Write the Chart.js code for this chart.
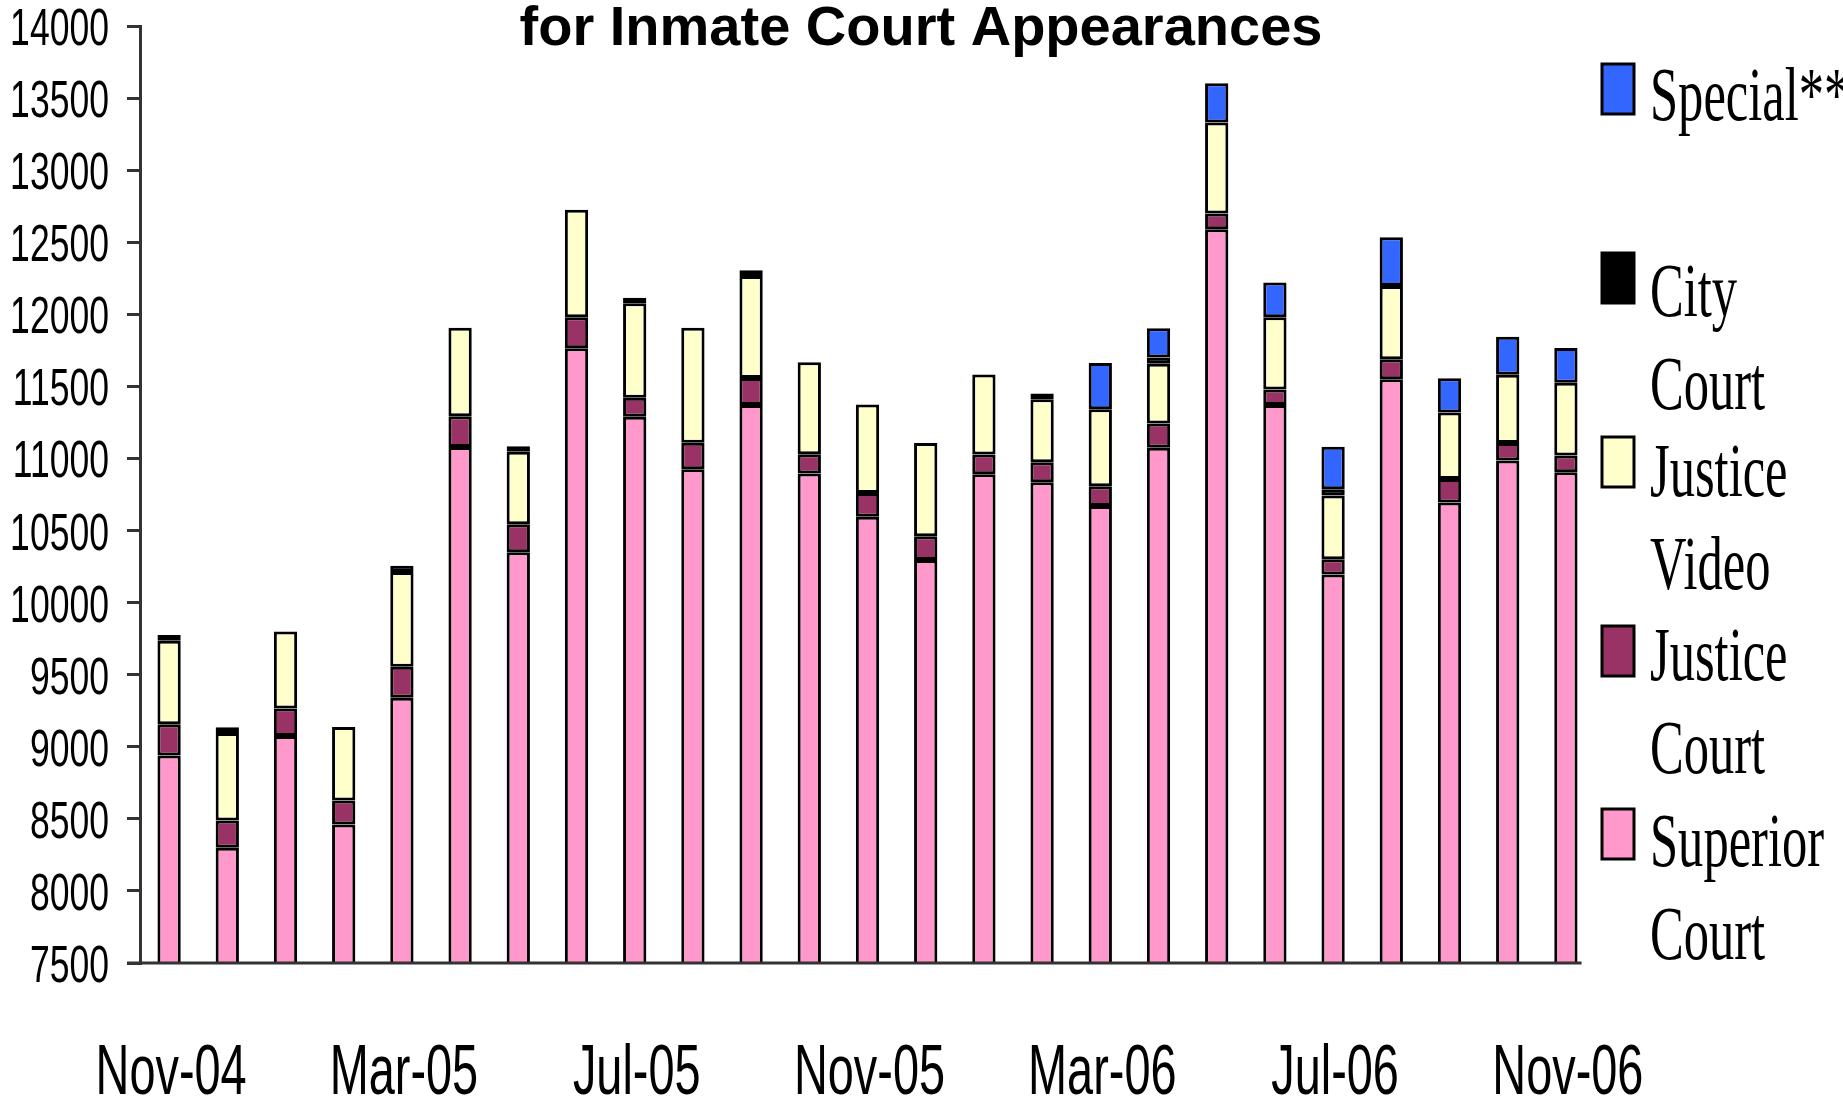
<!DOCTYPE html>
<html>
<head>
<meta charset="utf-8">
<title>Inmate Court Appearances</title>
<script src="https://cdn.jsdelivr.net/npm/chart.js@4.4.1/dist/chart.umd.min.js"></script>
<style>
  html, body { margin: 0; padding: 0; background: #fff; }
  #wrap { position: relative; width: 1843px; height: 1102px; }
</style>
</head>
<body>
<div id="wrap"><canvas id="courtChart"></canvas></div>
<script>
// Months on the x axis
const months = ['Nov-04', 'Dec-04', 'Jan-05', 'Feb-05', 'Mar-05', 'Apr-05', 'May-05', 'Jun-05',
    'Jul-05', 'Aug-05', 'Sep-05', 'Oct-05', 'Nov-05', 'Dec-05', 'Jan-06', 'Feb-06', 'Mar-06',
    'Apr-06', 'May-06', 'Jun-06', 'Jul-06', 'Aug-06', 'Sep-06', 'Oct-06', 'Nov-06'];

// Only every fourth month carries a label
const shownMonths = ['Nov-04', 'Mar-05', 'Jul-05', 'Nov-05', 'Mar-06', 'Jul-06', 'Nov-06'];

// Appearances per court type (stacked bottom to top)
const superiorCourt = [8940, 8300, 9075, 8460, 9340, 11080, 10350, 11765, 11290, 10925, 11370, 10895,
    10595, 10295, 10890, 10835, 10670, 11075, 12590, 11370, 10195, 11550, 10695, 10985, 10905];
const justiceCourt = [216, 188, 190, 167, 215, 212, 193, 214, 131, 184, 189, 134,
    166, 166, 137, 138, 137, 168, 109, 108, 106, 138, 162, 123, 115];
const justiceVideo = [580, 608, 535, 510, 658, 614, 503, 747, 656, 798, 706, 639,
    614, 647, 556, 437, 534, 414, 632, 502, 442, 508, 462, 472, 505];
const cityCourt = [40, 40, null, null, 42, null, 39, null, 37, null, 41, null,
    null, null, null, 41, null, 43, null, null, 43, null, null, null, null];
const special = [null, null, null, null, null, null, null, null, null, null, null, null,
    null, null, null, null, 322, 203, 272, 241, 296, 339, 237, 264, 241];

// y axis range
const yMin = 7500;
const yMax = 14000;
const yStep = 500;

const chartTitle = 'for Inmate Court Appearances';

// Legend layout (top to bottom)
const legendBaselines = [120, 316, 496, 680, 866];
const legendBoxTops = [64, 253, 437, 626, 809];
const legendLineGap = 93;

// draw text squeezed horizontally, like the stretched original
function drawSqueezed(ctx, text, x, y, font, sx, align) {
    ctx.save();
    ctx.translate(x, y);
    ctx.scale(sx, 1);
    ctx.font = font;
    ctx.textAlign = align;
    ctx.textBaseline = 'alphabetic';
    ctx.fillStyle = '#000';
    ctx.fillText(text, 0, 0);
    ctx.restore();
}

const textPlugin = {
    id: 'squeezedText',
    afterDraw(chart) {
        const ctx = chart.ctx;
        const xScale = chart.scales.x;
        const yScale = chart.scales.y;
        const area = chart.chartArea;

        // x baseline, ends just past the last bar
        const meta = chart.getDatasetMeta(0);
        const lastBar = meta.data[meta.data.length - 1];
        ctx.save();
        ctx.strokeStyle = '#333';
        ctx.lineWidth = 3;
        ctx.beginPath();
        ctx.moveTo(area.left - 13, area.bottom);
        ctx.lineTo(lastBar.x + lastBar.width / 2 + 4, area.bottom);
        ctx.stroke();
        ctx.restore();

        // y tick labels
        yScale.ticks.forEach(tick => {
            const py = yScale.getPixelForValue(tick.value);
            drawSqueezed(ctx, String(tick.value), 109, py + 19, '52px "Liberation Sans", Arial, sans-serif', 0.684, 'right');
        });

        // x tick labels
        months.forEach((m, i) => {
            if (shownMonths.includes(m)) {
                const px = xScale.getPixelForValue(i);
                drawSqueezed(ctx, m, px + 2, 1094, '71px "Liberation Sans", Arial, sans-serif', 0.66, 'center');
            }
        });

        // title
        ctx.save();
        ctx.font = 'bold 56px "Liberation Sans", Arial, sans-serif';
        ctx.textAlign = 'center';
        ctx.textBaseline = 'alphabetic';
        ctx.fillStyle = '#000';
        ctx.fillText(chartTitle, 921, 45);
        ctx.restore();

        // legend, top entry is the top of the stack
        const sets = chart.data.datasets.slice().reverse();
        sets.forEach((ds, i) => {
            const base = legendBaselines[i];
            ctx.save();
            ctx.fillStyle = ds.backgroundColor;
            ctx.strokeStyle = '#000';
            ctx.lineWidth = 3;
            ctx.fillRect(1602, legendBoxTops[i], 32, 50);
            ctx.strokeRect(1602, legendBoxTops[i], 32, 50);
            ctx.restore();
            ds.label.split(' ').forEach((word, j) => {
                drawSqueezed(ctx, word, 1650, base + j * legendLineGap, '76px "Liberation Serif", "Times New Roman", serif', 0.665, 'left');
            });
        });
    }
};

document.addEventListener('DOMContentLoaded', function() {
    const canvas = document.getElementById('courtChart');

    const barStyle = {
        borderColor: '#000',
        borderWidth: 3,
        borderSkipped: false,
        inflateAmount: 0,
        categoryPercentage: 1.0,
        barPercentage: 0.4
    };

    new Chart(canvas, {
        type: 'bar',
        data: {
            labels: months,
            datasets: [
                Object.assign({ label: 'Superior Court', data: superiorCourt, backgroundColor: '#FF99CC' }, barStyle),
                Object.assign({ label: 'Justice Court', data: justiceCourt, backgroundColor: '#993366' }, barStyle),
                Object.assign({ label: 'Justice Video', data: justiceVideo, backgroundColor: '#FFFFCC' }, barStyle),
                Object.assign({ label: 'City Court', data: cityCourt, backgroundColor: '#000000' }, barStyle),
                Object.assign({ label: 'Special**', data: special, backgroundColor: '#3366FF' }, barStyle)
            ]
        },
        options: {
            responsive: true,
            maintainAspectRatio: false,
            animation: false,
            devicePixelRatio: 1,
            layout: {
                padding: { left: 127, right: 248, top: 26, bottom: 139 }
            },
            plugins: {
                legend: { display: false },
                title: { display: false },
                tooltip: { enabled: false }
            },
            scales: {
                x: {
                    display: false,
                    stacked: true
                },
                y: {
                    stacked: true,
                    min: yMin,
                    max: yMax,
                    ticks: { display: false, stepSize: yStep },
                    grid: {
                        drawOnChartArea: false,
                        drawTicks: true,
                        tickLength: 13,
                        color: '#333',
                        lineWidth: 3
                    },
                    border: { display: true, color: '#333', width: 3 }
                }
            }
        },
        plugins: [textPlugin]
    });
});
</script>
</body>
</html>
